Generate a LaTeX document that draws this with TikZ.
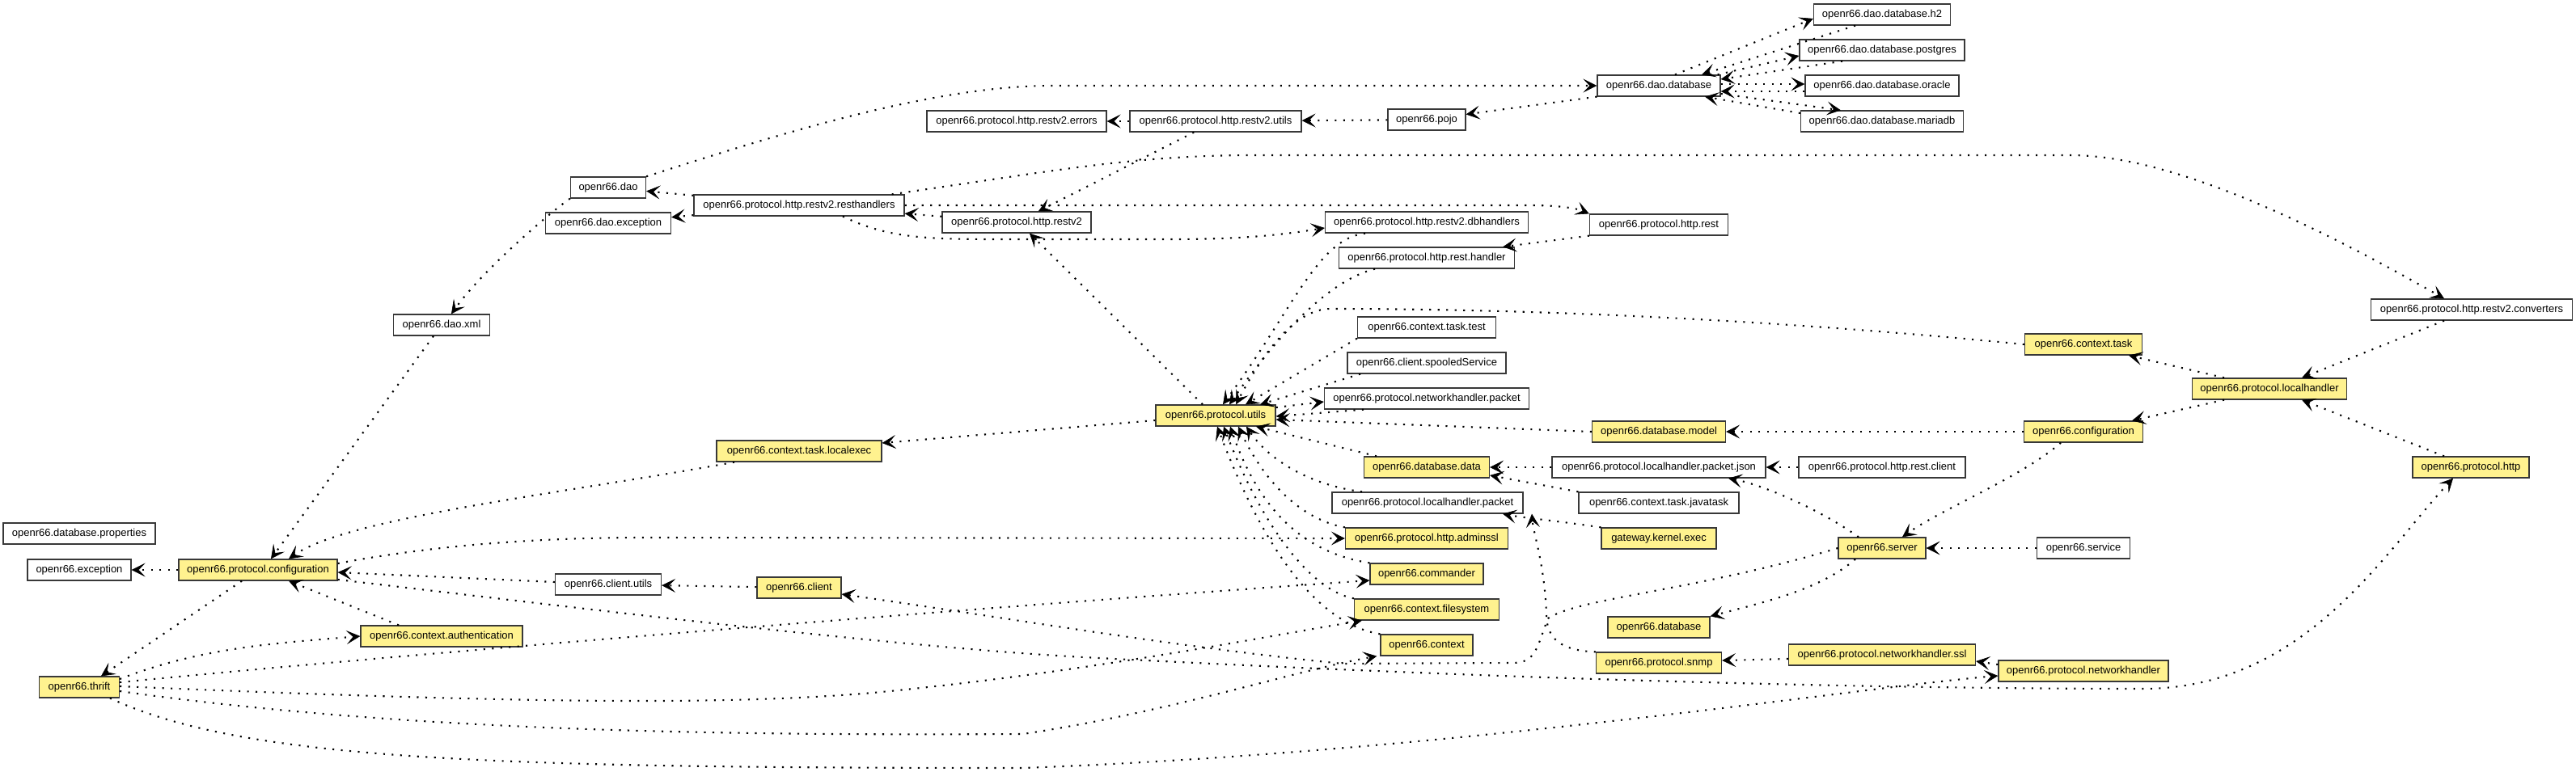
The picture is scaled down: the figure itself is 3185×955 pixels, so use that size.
\documentclass[tikz,border=0pt]{standalone}
\usepackage{fontspec}
\setmainfont{Liberation Sans}
\usetikzlibrary{arrows.meta}
\definecolor{pkgyellow}{RGB}{255,242,143}
\newcommand\pkgfont{\fontsize{13}{15}\selectfont}
\tikzset{
  pkg/.style={draw=black!78, line width=1.3pt, minimum height=26pt, inner sep=0pt, font=\pkgfont, text=black},
  yel/.style={pkg, fill=pkgyellow},
  wht/.style={pkg, fill=white},
  dep/.style={draw=black, line width=2.1pt, dash pattern=on 2.1pt off 8.4pt,
     -{Stealth[length=17pt,width=17pt,inset=8pt,line width=0.6pt]}},
}
\begin{document}
\begin{tikzpicture}[x=1pt,y=-1pt]
\useasboundingbox (0,0) rectangle (3185,955);
% ---------------- nodes
\node[wht, minimum width=188pt] (dbprops) at (98,660) {openr66.database.properties};
\node[wht, minimum width=128pt] (exc) at (98,705) {openr66.exception};
\node[yel, minimum width=196pt] (pconf) at (319,705) {openr66.protocol.configuration};
\node[yel, minimum width=200pt] (auth) at (546,787) {openr66.context.authentication};
\node[yel, minimum width=99pt] (thrift) at (98,850) {openr66.thrift};
\node[wht, minimum width=119pt] (daoxml) at (546,402) {openr66.dao.xml};
\node[wht, minimum width=93pt] (dao) at (752,232) {openr66.dao};
\node[wht, minimum width=155pt] (daoexc) at (752,276) {openr66.dao.exception};
\node[wht, minimum width=260pt] (resth) at (988,254) {openr66.protocol.http.restv2.resthandlers};
\node[wht, minimum width=222pt] (errors) at (1257,150) {openr66.protocol.http.restv2.errors};
\node[wht, minimum width=184pt] (restv2) at (1257,275) {openr66.protocol.http.restv2};
\node[wht, minimum width=212pt] (rvutils) at (1503,150) {openr66.protocol.http.restv2.utils};
\node[wht, minimum width=96pt] (pojo) at (1764,148) {openr66.pojo};
\node[wht, minimum width=251pt] (dbh) at (1764,275) {openr66.protocol.http.restv2.dbhandlers};
\node[wht, minimum width=217pt] (rhandler) at (1764,319) {openr66.protocol.http.rest.handler};
\node[wht, minimum width=152pt] (daodb) at (2051,106) {openr66.dao.database};
\node[wht, minimum width=169pt] (h2) at (2327,18) {openr66.dao.database.h2};
\node[wht, minimum width=204pt] (pg) at (2327,62) {openr66.dao.database.postgres};
\node[wht, minimum width=190pt] (oracle) at (2327,106) {openr66.dao.database.oracle};
\node[wht, minimum width=201pt] (maria) at (2327,150) {openr66.dao.database.mariadb};
\node[wht, minimum width=171pt] (rest) at (2051,278) {openr66.protocol.http.rest};
\node[wht, minimum width=171pt] (tasktest) at (1764,405) {openr66.context.task.test};
\node[wht, minimum width=196pt] (spooled) at (1764,449) {openr66.client.spooledService};
\node[wht, minimum width=253pt] (nhpacket) at (1764,493) {openr66.protocol.networkhandler.packet};
\node[yel, minimum width=148pt] (utils) at (1503,514) {openr66.protocol.utils};
\node[yel, minimum width=155pt] (data) at (1764,578) {openr66.database.data};
\node[wht, minimum width=236pt] (lhpacket) at (1765,622) {openr66.protocol.localhandler.packet};
\node[yel, minimum width=201pt] (adminssl) at (1764,666) {openr66.protocol.http.adminssl};
\node[yel, minimum width=140pt] (commander) at (1764,710) {openr66.commander};
\node[yel, minimum width=179pt] (fs) at (1764,754) {openr66.context.filesystem};
\node[yel, minimum width=114pt] (context) at (1764,798) {openr66.context};
\node[yel, minimum width=204pt] (localexec) at (988,558) {openr66.context.task.localexec};
\node[wht, minimum width=131pt] (cutils) at (752,723) {openr66.client.utils};
\node[yel, minimum width=104pt] (client) at (988,727) {openr66.client};
\node[yel, minimum width=145pt] (ctask) at (2576,426) {openr66.context.task};
\node[yel, minimum width=165pt] (model) at (2051,534) {openr66.database.model};
\node[yel, minimum width=147pt] (conf) at (2576,534) {openr66.configuration};
\node[wht, minimum width=264pt] (json) at (2051,578) {openr66.protocol.localhandler.packet.json};
\node[wht, minimum width=206pt] (rclient) at (2327,578) {openr66.protocol.http.rest.client};
\node[wht, minimum width=198pt] (javatask) at (2051,622) {openr66.context.task.javatask};
\node[yel, minimum width=142pt] (gke) at (2051,666) {gateway.kernel.exec};
\node[yel, minimum width=108pt] (server) at (2327,678) {openr66.server};
\node[wht, minimum width=115pt] (service) at (2576,678) {openr66.service};
\node[yel, minimum width=126pt] (database) at (2051,776) {openr66.database};
\node[yel, minimum width=155pt] (snmp) at (2051,820) {openr66.protocol.snmp};
\node[yel, minimum width=231pt] (ssl) at (2327,810) {openr66.protocol.networkhandler.ssl};
\node[yel, minimum width=210pt] (nh) at (2576,830) {openr66.protocol.networkhandler};
\node[wht, minimum width=249pt] (conv) at (3056,383) {openr66.protocol.http.restv2.converters};
\node[yel, minimum width=191pt] (lh) at (2806,481) {openr66.protocol.localhandler};
\node[yel, minimum width=144pt] (http) at (3055,578) {openr66.protocol.http};
% ---------------- edges: left part
\draw[dep] (pconf) -- (exc);
\draw[dep] ([xshift=-20pt]pconf.south) -- ([xshift=27pt]thrift.north);
\draw[dep] (dao.south west) .. controls (690,255) and (600,330) .. ([xshift=12pt]daoxml.north);
\draw[dep] ([xshift=-10pt]daoxml.south) -- ([xshift=16pt]pconf.north);
\draw[dep] ([xshift=-80pt]localexec.south) .. controls (700,610) and (430,640) .. ([xshift=38pt]pconf.north);
\draw[dep] ([xshift=-53pt]auth.north) -- ([xshift=38pt]pconf.south);
\draw[dep] ([yshift=3pt]cutils.west) -- ([yshift=-3pt]pconf.east);
\draw[dep] (client) -- (cutils);
\draw[dep] ([yshift=8pt]pconf.east) .. controls (560,670) and (700,665) .. (800,665) -- (adminssl.west);
\draw[dep] ([yshift=-12pt]pconf.east) .. controls (700,750) and (1100,800) .. (1340,813)
   .. controls (1700,832) and (2200,852) .. (2650,852) .. controls (2850,852) and (2950,680) .. ([xshift=-22pt]http.south);
\draw[dep] ([yshift=10pt]thrift.east) .. controls (250,800) and (350,795) .. (auth.west);
\draw[dep] ([yshift=6pt]thrift.east) .. controls (600,800) and (1300,745) .. ([yshift=-8pt]commander.west);
\draw[dep] ([yshift=1pt]thrift.east) .. controls (600,868) and (900,875) .. (1100,855) .. controls (1350,830) and (1550,790) .. ([xshift=10pt]fs.south west);
\draw[dep] ([yshift=-5pt]thrift.east) .. controls (500,905) and (900,910) .. (1265,908) .. controls (1450,880) and (1600,830) .. ([xshift=-4pt]context.south west);
\draw[dep] ([xshift=38pt]thrift.south) .. controls (300,940) and (600,950) .. (1265,950) .. controls (1800,930) and (2300,850) .. ([yshift=-6pt]nh.west);
% ---------------- edges: top part
\draw[dep] (dao.north east) .. controls (950,170) and (1150,106) .. (1300,106) -- (daodb);
\draw[dep] (resth) -- (dao);
\draw[dep] (resth) -- (daoexc);
\draw[dep] (restv2) -- (resth);
\draw[dep] ([xshift=-16pt]resth.north east) .. controls (1300,212) and (1400,192) .. (1550,192) -- (2560,192) .. controls (2700,192) and (2900,300) .. ([xshift=-34pt]conv.north);
\draw[dep] (resth.east) -- (1890,254) .. controls (1930,254) and (1950,258) .. (rest.north west);
\draw[dep] ([xshift=54pt]resth.south) .. controls (1100,296) and (1150,296) .. (1250,296) -- (1450,296) .. controls (1550,296) and (1600,288) .. ([yshift=-7pt]dbh.west);
\draw[dep] (rvutils) -- (restv2);
\draw[dep] ([xshift=-16pt]utils.north) -- ([xshift=16pt]restv2.south);
\draw[dep] (rvutils) -- (errors);
\draw[dep] (pojo) -- (rvutils);
\draw[dep] (daodb.south west) -- (pojo);
\draw[dep] ([xshift=20pt]daodb.north) -- ([yshift=-5pt]h2.west);
\draw[dep] ([xshift=-33pt]h2.south) -- ([xshift=53pt]daodb.north);
\draw[dep] ([xshift=-4pt]daodb.north east) -- ([yshift=-7pt]pg.west);
\draw[dep] ([xshift=-49pt]pg.south) -- ([yshift=8pt]daodb.east);
\draw[dep] ([yshift=2pt]daodb.east) -- ([yshift=2pt]oracle.west);
\draw[dep] ([yshift=-7pt]oracle.west) -- ([yshift=-7pt]daodb.east);
\draw[dep] ([yshift=-10pt]daodb.east) -- ([xshift=50pt]maria.north west);
\draw[dep] ([yshift=10pt]maria.west) -- ([xshift=57pt]daodb.south);
\draw[dep] (rest.south west) -- ([xshift=-15pt]rhandler.north east);
% ---------------- edges into / out of utils
\draw[dep] ([xshift=-76pt]dbh.south) .. controls (1630,295) and (1600,380) .. ([xshift=9pt]utils.north);
\draw[dep] ([xshift=-64pt]rhandler.south) .. controls (1650,345) and (1590,400) .. ([xshift=17pt]utils.north);
\draw[dep] (ctask.west) .. controls (2200,396) and (1900,382) .. (1645,382) .. controls (1600,382) and (1560,440) .. ([xshift=25pt]utils.north);
\draw[dep] (tasktest.south west) -- ([xshift=37pt]utils.north);
\draw[dep] ([xshift=-82pt]spooled.south) -- ([xshift=55pt]utils.north);
\draw[dep] ([yshift=10pt]utils.east) -- ([yshift=-4pt]nhpacket.west);
\draw[dep] ([xshift=-78pt]nhpacket.south) -- ([yshift=-1pt]utils.east);
\draw[dep] (model.west) -- ([yshift=-5pt]utils.east);
\draw[dep] ([xshift=-62pt]data.north) -- ([xshift=50pt]utils.south);
\draw[dep] ([xshift=-81pt]lhpacket.north) .. controls (1620,600) and (1570,570) .. ([xshift=38pt]utils.south);
\draw[dep] (adminssl.north west) .. controls (1620,645) and (1570,610) .. ([xshift=28pt]utils.south);
\draw[dep] (commander.north west) .. controls (1620,685) and (1560,640) .. ([xshift=18pt]utils.south);
\draw[dep] (fs.north west) .. controls (1620,730) and (1560,650) .. ([xshift=10pt]utils.south);
\draw[dep] (context.north west) .. controls (1620,770) and (1555,660) .. ([xshift=2pt]utils.south);
\draw[dep] ([yshift=-6pt]utils.west) -- ([yshift=10pt]localexec.east);
% ---------------- right part
\draw[dep] (json) -- (data);
\draw[dep] (javatask.north west) -- ([yshift=-10pt]data.east);
\draw[dep] (rclient) -- (json);
\draw[dep] ([xshift=-29pt]server.north) .. controls (2250,630) and (2180,600) .. ([xshift=86pt]json.south);
\draw[dep] ([xshift=-28pt]conf.south) .. controls (2500,590) and (2400,630) .. ([xshift=25pt]server.north);
\draw[dep] (service) -- (server);
\draw[dep] ([xshift=-33pt]server.south) .. controls (2250,730) and (2180,745) .. (database.north east);
\draw[dep] ([yshift=-5pt]ssl.west) -- ([yshift=3pt]snmp.east);
\draw[dep] ([yshift=8pt]nh.west) -- ([yshift=-8pt]ssl.east);
\draw[dep] (gke.north west) .. controls (1930,645) and (1880,640) .. ([xshift=93pt]lhpacket.south);
\draw[dep] ([xshift=-34pt]conv.south) -- ([xshift=40pt]lh.north);
\draw[dep] ([xshift=-33pt]http.north) -- ([xshift=40pt]lh.south);
\draw[dep] ([xshift=-56pt]lh.north) -- ([xshift=56pt]ctask.south);
\draw[dep] ([xshift=-56pt]lh.south) -- ([xshift=60pt]conf.north);
\draw[dep] (conf) -- (model);
% routes in the lower middle
\draw[dep] (server.west) .. controls (2100,730) and (1950,740) .. (1914,765) .. controls (1900,800) and (1900,820) .. (1870,820) -- (1660,821) .. controls (1450,800) and (1250,765) .. ([yshift=-8pt]client.east);
\draw[dep] (snmp.north west) .. controls (1930,805) and (1912,790) .. (1912,760) .. controls (1910,700) and (1896,660) .. ([xshift=129pt]lhpacket.south);
\end{tikzpicture}
\end{document}
